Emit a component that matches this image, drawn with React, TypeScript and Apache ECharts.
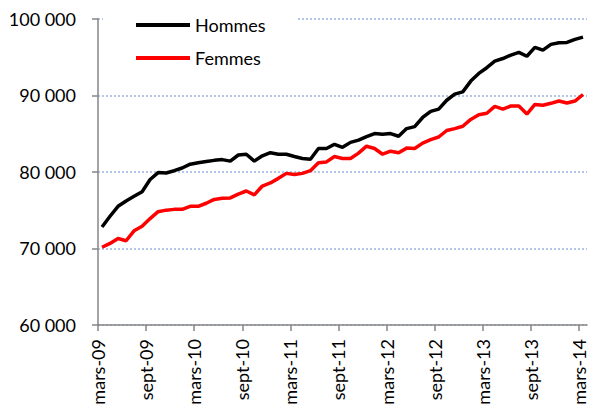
import React, { useEffect, useRef } from "react";
import * as echarts from "echarts";

const tickLabels = [
  "mars-09", "sept-09", "mars-10", "sept-10", "mars-11", "sept-11",
  "mars-12", "sept-12", "mars-13", "sept-13", "mars-14",
];

// Monthly values, mars-09 .. mars-14 (61 months)
const hommes = [
  72800, 74200, 75500, 76200, 76800, 77400, 79000, 79900, 79850, 80150,
  80500, 81000, 81200, 81350, 81500, 81600, 81400, 82200, 82300, 81400,
  82100, 82500, 82300, 82300, 82000, 81750, 81650, 83050, 83050, 83600,
  83200, 83850, 84150, 84600, 85000, 84900, 85000, 84650, 85650, 85900,
  87100, 87900, 88200, 89350, 90150, 90450, 91850, 92850, 93600, 94450,
  94800, 95250, 95600, 95100, 96250, 95900, 96650, 96850, 96900, 97300,
  97600,
];

const femmes = [
  70150, 70650, 71300, 71000, 72300, 72900, 73900, 74800, 75000, 75100,
  75100, 75500, 75500, 75900, 76400, 76550, 76600, 77100, 77500, 77000,
  78150, 78550, 79150, 79800, 79650, 79800, 80150, 81200, 81300, 82000,
  81750, 81750, 82450, 83350, 83050, 82300, 82700, 82500, 83100, 83050,
  83750, 84200, 84550, 85400, 85650, 85950, 86850, 87450, 87650, 88550,
  88200, 88600, 88600, 87550, 88800, 88700, 88950, 89250, 89000, 89250,
  90100,
];

const seriesNames = ["Hommes", "Femmes"];

const FONT = "Lato, 'Open Sans', sans-serif";

export default function App() {
  const ref = useRef<HTMLDivElement>(null);

  useEffect(() => {
    document.body.style.margin = "0";
    if (!ref.current) return;
    const chart = echarts.init(ref.current, undefined, { renderer: "svg" });
    const toPoints = (arr: number[]) => arr.map((v, i) => [i + 0.5, v]);
    const tickValues = tickLabels.map((_, k) => k * 6);

    chart.setOption({
      animation: false,
      backgroundColor: "#ffffff",
      textStyle: { fontFamily: FONT },
      grid: { left: 98, right: 4, top: 18.7, bottom: 83, containLabel: false },
      legend: {
        orient: "vertical",
        left: 103,
        top: 5,
        padding: [10, 32, 10, 33],
        backgroundColor: "#ffffff",
        icon: "rect",
        itemWidth: 54,
        itemHeight: 4,
        itemGap: 13,
        data: seriesNames,
        textStyle: { fontFamily: FONT, fontSize: 18, color: "#000", lineHeight: 20 },
      },
      xAxis: {
        type: "value",
        min: 0,
        max: tickLabels.length * 6 - 5,
        splitLine: { show: false },
        axisLine: { show: true, lineStyle: { color: "#868686", width: 1.5 } },
        axisTick: {
          show: true,
          length: 6,
          customValues: tickValues,
          lineStyle: { color: "#868686", width: 1.5 },
        },
        axisLabel: {
          customValues: tickValues,
          rotate: 90,
          margin: 14,
          fontFamily: FONT,
          fontSize: 18,
          color: "#000",
          formatter: (v: number) => tickLabels[Math.round(v / 6)] ?? "",
        },
      },
      yAxis: {
        type: "value",
        min: 60000,
        max: 100000,
        interval: 10000,
        axisLine: { show: true, lineStyle: { color: "#868686", width: 1.5 } },
        axisTick: { show: true, length: 6, lineStyle: { color: "#868686", width: 1.5 } },
        axisLabel: {
          margin: 22,
          fontFamily: FONT,
          fontSize: 18,
          color: "#000",
          formatter: (v: number) =>
            String(v).replace(/\B(?=(\d{3})+(?!\d))/g, " "),
        },
        splitLine: {
          show: true,
          lineStyle: { color: "#b4c6e7", width: 2, type: [2, 2] },
        },
      },
      series: [
        {
          name: seriesNames[0],
          type: "line",
          data: toPoints(hommes),
          symbol: "none",
          lineStyle: { color: "#000000", width: 3.5 },
          itemStyle: { color: "#000000" },
        },
        {
          name: seriesNames[1],
          type: "line",
          data: toPoints(femmes),
          symbol: "none",
          lineStyle: { color: "#ff0000", width: 3.5 },
          itemStyle: { color: "#ff0000" },
        },
      ],
    });
    return () => chart.dispose();
  }, []);

  return (
    <div
      ref={ref}
      style={{ position: "fixed", left: 0, top: 0, width: 591, height: 408 }}
    />
  );
}
